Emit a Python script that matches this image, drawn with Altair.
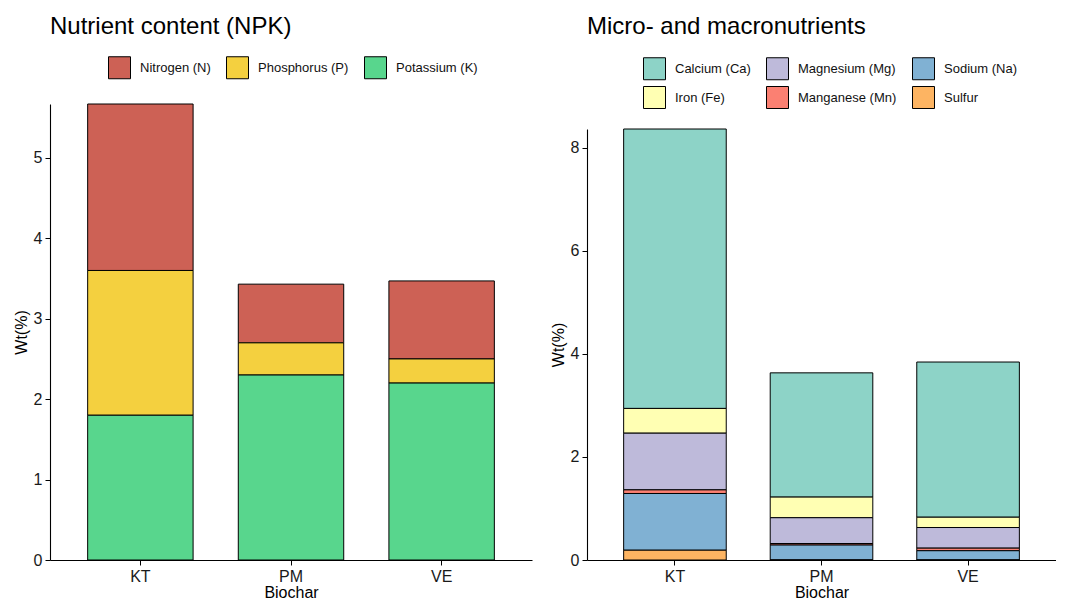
import altair as alt
import pandas as pd

biochar = ["KT", "PM", "VE"]

npk_names = ["Nitrogen (N)", "Phosphorus (P)", "Potassium (K)"]
npk_colors = ["#CD6155", "#F4D03F", "#58D68D"]
nitrogen = [2.07, 0.73, 0.97]
phosphorus = [1.80, 0.40, 0.30]
potassium = [1.80, 2.30, 2.20]

micro_names = ["Calcium (Ca)", "Iron (Fe)", "Magnesium (Mg)",
               "Manganese (Mn)", "Sodium (Na)", "Sulfur"]
micro_colors = ["#8DD3C7", "#FFFFB3", "#BEBADA", "#FB8072", "#80B1D3", "#FDB462"]
calcium = [5.42, 2.41, 3.01]
iron = [0.48, 0.40, 0.20]
magnesium = [1.10, 0.50, 0.40]
manganese = [0.07, 0.03, 0.05]
sodium = [1.10, 0.29, 0.18]
sulfur = [0.19, 0.00, 0.00]

npk_ticks = [0, 1, 2, 3, 4, 5]
micro_ticks = [0, 2, 4, 6, 8]


def long_table(names, series):
    rows = []
    n = len(names)
    for i, (name, vals) in enumerate(zip(names, series)):
        for b, v in zip(biochar, vals):
            rows.append({"Biochar": b, "nutrient": name, "value": v, "rank": n - i})
    return pd.DataFrame(rows)


npk_df = long_table(npk_names, [nitrogen, phosphorus, potassium])
micro_df = long_table(micro_names, [calcium, iron, magnesium, manganese, sodium, sulfur])

# legend is filled row by row: reorder so columns read Ca/Fe, Mg/Mn, Na/S
micro_legend_order = [micro_names[i] for i in (0, 2, 4, 1, 3, 5)]
micro_legend_colors = [micro_colors[i] for i in (0, 2, 4, 1, 3, 5)]

FONT = "Liberation Sans"
HEIGHT = 456


def panel(df, domain, rng, title, width, yvals, lx, ly, columns, toff, ytop):
    return alt.Chart(df).mark_bar(stroke="black", strokeWidth=1).encode(
        x=alt.X("Biochar:N", sort=biochar,
                scale=alt.Scale(paddingInner=0.3, paddingOuter=0.25),
                axis=alt.Axis(title="Biochar", labelAngle=0, labelPadding=3,
                              titlePadding=0)),
        y=alt.Y("value:Q", stack="zero",
                scale=alt.Scale(nice=False, zero=True, range=[HEIGHT, ytop]),
                axis=alt.Axis(title="Wt(%)", values=yvals, labelPadding=3,
                              titlePadding=4)),
        color=alt.Color("nutrient:N",
                        scale=alt.Scale(domain=domain, range=rng),
                        legend=alt.Legend(title=None, orient="none",
                                          legendX=lx, legendY=ly,
                                          direction="horizontal",
                                          columns=columns,
                                          symbolType="square", symbolSize=484,
                                          symbolStrokeColor="black",
                                          symbolStrokeWidth=1,
                                          symbolOpacity=1,
                                          labelFont=FONT, labelFontSize=13,
                                          labelColor="#111111",
                                          labelOffset=9, columnPadding=13,
                                          rowPadding=2, padding=0)),
        order=alt.Order("rank:Q", sort="ascending"),
    ).properties(
        width=width, height=HEIGHT,
        title=alt.TitleParams(title, anchor="start", frame="group",
                              font=FONT, fontSize=24, fontWeight="normal",
                              color="black", offset=toff),
    )


left = panel(npk_df, npk_names, npk_colors, "Nutrient content (NPK)",
             482, npk_ticks, 58, -48, 3, 17, 0)
right = panel(micro_df, micro_legend_order, micro_legend_colors,
              "Micro- and macronutrients", 469, micro_ticks, 56, -47, 3, 18, 25)

chart = alt.concat(left, right, columns=2, spacing=18, align="none").resolve_scale(
    color="independent"
).properties(
    padding={"left": 5, "top": 7, "right": 0, "bottom": 0}
).configure_view(stroke=None).configure_axis(
    domainColor="black", domainWidth=1.1, tickColor="black", tickSize=5,
    tickWidth=1, grid=False, labelFont=FONT, labelFontSize=16,
    labelColor="#1a1a1a", titleFont=FONT, titleFontSize=16,
    titleFontWeight="normal", titleColor="black",
)

chart.save("out.html", embed_options={"renderer": "svg", "actions": False})
